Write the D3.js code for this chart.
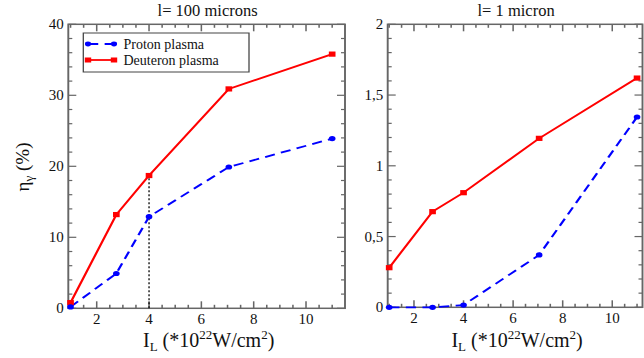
<!DOCTYPE html>
<html>
<head>
<meta charset="utf-8">
<script src="https://cdn.jsdelivr.net/npm/d3@7"></script>
<style>
  html, body { margin: 0; padding: 0; background: #fff; }
  svg { display: block; }
</style>
</head>
<body>
<svg id="chart" width="644" height="358"></svg>
<script>
// laser intensity (x 10^22 W/cm^2)
const intensity = [1, 2.75, 4, 7.05, 11];

// conversion efficiency eta_gamma (%), l = 100 microns
const proton100 = [0.2, 4.9, 12.9, 19.9, 23.9];
const deuteron100 = [0.8, 13.2, 18.7, 30.9, 35.8];

// l = 1 micron
const proton1 = [0, 0, 0.016, 0.37, 1.345];
const deuteron1 = [0.28, 0.676, 0.81, 1.194, 1.62];

const xTicks = [2, 4, 6, 8, 10];
const yTicks100 = [0, 10, 20, 30, 40];
const yTicks1 = [0, 0.5, 1, 1.5, 2];

const titles = ['l= 100 microns', 'l= 1 micron'];
const seriesNames = ['Proton plasma', 'Deuteron plasma'];

// the original figure is stretched horizontally: marks are drawn in a scaled group,
// text stays unscaled (scaled text loses the serif face)
const SX = 1.28;
const FONT = '"Liberation Serif"';
const svg = d3.select('#chart');
const marks = svg.append('g').attr('transform', `scale(${SX},1)`);
const texts = svg.append('g');

function label(sel, size) {
  return sel.append('text').style('font-family', FONT).style('font-size', size + 'px').attr('fill', '#111');
}

const panels = [
  {title: titles[0], px: [68.3, 345], py: [308.3, 24.3], xd: [0.914, 11.49], yd: [0, 40],
   yTicks: yTicks100, yMinor: 2, fmt: d => d, proton: proton100, deuteron: deuteron100, guide: true, legend: true},
  {title: titles[1], px: [387.7, 642.5], py: [307.3, 24.3], xd: [0.94, 11.22], yd: [0, 2],
   yTicks: yTicks1, yMinor: 0.1, fmt: d => String(d).replace('.', ','), proton: proton1, deuteron: deuteron1}
];

const frameColor = '#666';

panels.forEach(p => {
  // x in the scaled (design) space, xp in screen pixels for text
  const x = d3.scaleLinear().domain(p.xd).range([p.px[0] / SX, p.px[1] / SX]);
  const xp = d3.scaleLinear().domain(p.xd).range(p.px);
  const y = d3.scaleLinear().domain(p.yd).range(p.py);
  const g = marks.append('g');
  const [x0, x1] = x.range();
  const [yb, yt] = y.range();

  // ticks on all four sides, pointing inward
  const xMinor = d3.range(1, p.xd[1], 0.5).filter(v => v % 2 !== 0);
  const tk = g.append('g').attr('stroke', frameColor).attr('stroke-width', 1.2);
  const addX = (vals, len) => vals.forEach(v => {
    tk.append('line').attr('x1', x(v)).attr('x2', x(v)).attr('y1', yb).attr('y2', yb - len);
    tk.append('line').attr('x1', x(v)).attr('x2', x(v)).attr('y1', yt).attr('y2', yt + len);
  });
  addX(xMinor, 3.5);
  addX(xTicks, 7);
  const yMinorVals = d3.range(p.yd[0], p.yd[1] + 1e-9, p.yMinor)
    .filter(v => !p.yTicks.some(t => Math.abs(t - v) < 1e-9));
  const addY = (vals, len) => vals.forEach(v => {
    tk.append('line').attr('x1', x0).attr('x2', x0 + len / SX).attr('y1', y(v)).attr('y2', y(v));
    tk.append('line').attr('x1', x1).attr('x2', x1 - len / SX).attr('y1', y(v)).attr('y2', y(v));
  });
  addY(yMinorVals, 4);
  addY(p.yTicks, 8);

  g.append('rect').attr('x', x0).attr('y', yt).attr('width', x1 - x0).attr('height', yb - yt)
    .attr('fill', 'none').attr('stroke', frameColor).attr('stroke-width', 1.5);

  // tick labels
  xTicks.forEach(d => {
    label(texts, 15).attr('x', xp(d)).attr('y', yb + 16).attr('text-anchor', 'middle').text(d);
  });
  p.yTicks.forEach(d => {
    label(texts, 15).attr('x', p.px[0] - 4.5).attr('y', y(d) + 5).attr('text-anchor', 'end').text(p.fmt(d));
  });

  // title
  label(texts, 16.5).attr('x', (p.px[0] + p.px[1]) / 2 + 1).attr('y', 15.5).attr('text-anchor', 'middle').text(p.title);

  // x label
  const xl = label(texts, 20).attr('x', (p.px[0] + p.px[1]) / 2 + 2).attr('y', 346.5).attr('text-anchor', 'middle');
  xl.append('tspan').text('I');
  xl.append('tspan').attr('dy', 4).style('font-size', '13px').text('L');
  xl.append('tspan').attr('dy', -4).text(' (*10');
  xl.append('tspan').attr('dy', -8).style('font-size', '13px').text('22');
  xl.append('tspan').attr('dy', 8).text('W/cm');
  xl.append('tspan').attr('dy', -8).style('font-size', '13px').text('2');
  xl.append('tspan').attr('dy', 8).text(')');

  if (p.guide) {
    g.append('line').attr('x1', x(intensity[2])).attr('x2', x(intensity[2]))
      .attr('y1', y(0)).attr('y2', y(p.deuteron[2]))
      .attr('stroke', '#000').attr('stroke-width', 1).attr('stroke-dasharray', '2,2');
  }

  const line = d3.line().x((d, i) => x(intensity[i])).y(d => y(d));
  g.append('path').datum(p.deuteron).attr('d', line).attr('fill', 'none')
    .attr('stroke', '#ff0000').attr('stroke-width', 1.8);
  g.append('path').datum(p.proton).attr('d', line).attr('fill', 'none')
    .attr('stroke', '#0000ff').attr('stroke-width', 1.8).attr('stroke-dasharray', '8,5');

  g.selectAll('.sq').data(p.deuteron).enter().append('rect')
    .attr('x', (d, i) => x(intensity[i]) - 2.6).attr('y', d => y(d) - 2.6)
    .attr('width', 5.2).attr('height', 5.2).attr('fill', '#ff0000');
  g.selectAll('.ci').data(p.proton).enter().append('circle')
    .attr('cx', (d, i) => x(intensity[i])).attr('cy', d => y(d)).attr('r', 2.6).attr('fill', '#0000ff');

  if (p.legend) {
    const lg = g.append('g');
    lg.append('rect').attr('x', 83.3 / SX).attr('y', 33).attr('width', (249 - 83.3) / SX).attr('height', 39)
      .attr('fill', '#fff').attr('stroke', '#444').attr('stroke-width', 1);
    const rows = [
      {name: seriesNames[0], color: '#0000ff', dash: '8,5', cy: 44, marker: 'circle'},
      {name: seriesNames[1], color: '#ff0000', dash: null, cy: 60, marker: 'square'}
    ];
    rows.forEach(r => {
      const a = 88 / SX, b = 114 / SX;
      lg.append('line').attr('x1', a).attr('x2', b).attr('y1', r.cy).attr('y2', r.cy)
        .attr('stroke', r.color).attr('stroke-width', 1.8).attr('stroke-dasharray', r.dash);
      [a, b].forEach(cx => {
        if (r.marker === 'circle') lg.append('circle').attr('cx', cx).attr('cy', r.cy).attr('r', 2.4).attr('fill', r.color);
        else lg.append('rect').attr('x', cx - 2.5).attr('y', r.cy - 2.5).attr('width', 5).attr('height', 5).attr('fill', r.color);
      });
      label(texts, 14).attr('x', 123.5).attr('y', r.cy + 4.5).text(r.name);
    });
  }
});

// y axis label
const yl = label(texts, 19).attr('transform', 'translate(29,167) rotate(-90)').attr('text-anchor', 'middle');
yl.append('tspan').text('η');
yl.append('tspan').attr('dy', 4).style('font-size', '13px').text('γ');
yl.append('tspan').attr('dy', -4).text(' (%)');
</script>
</body>
</html>
